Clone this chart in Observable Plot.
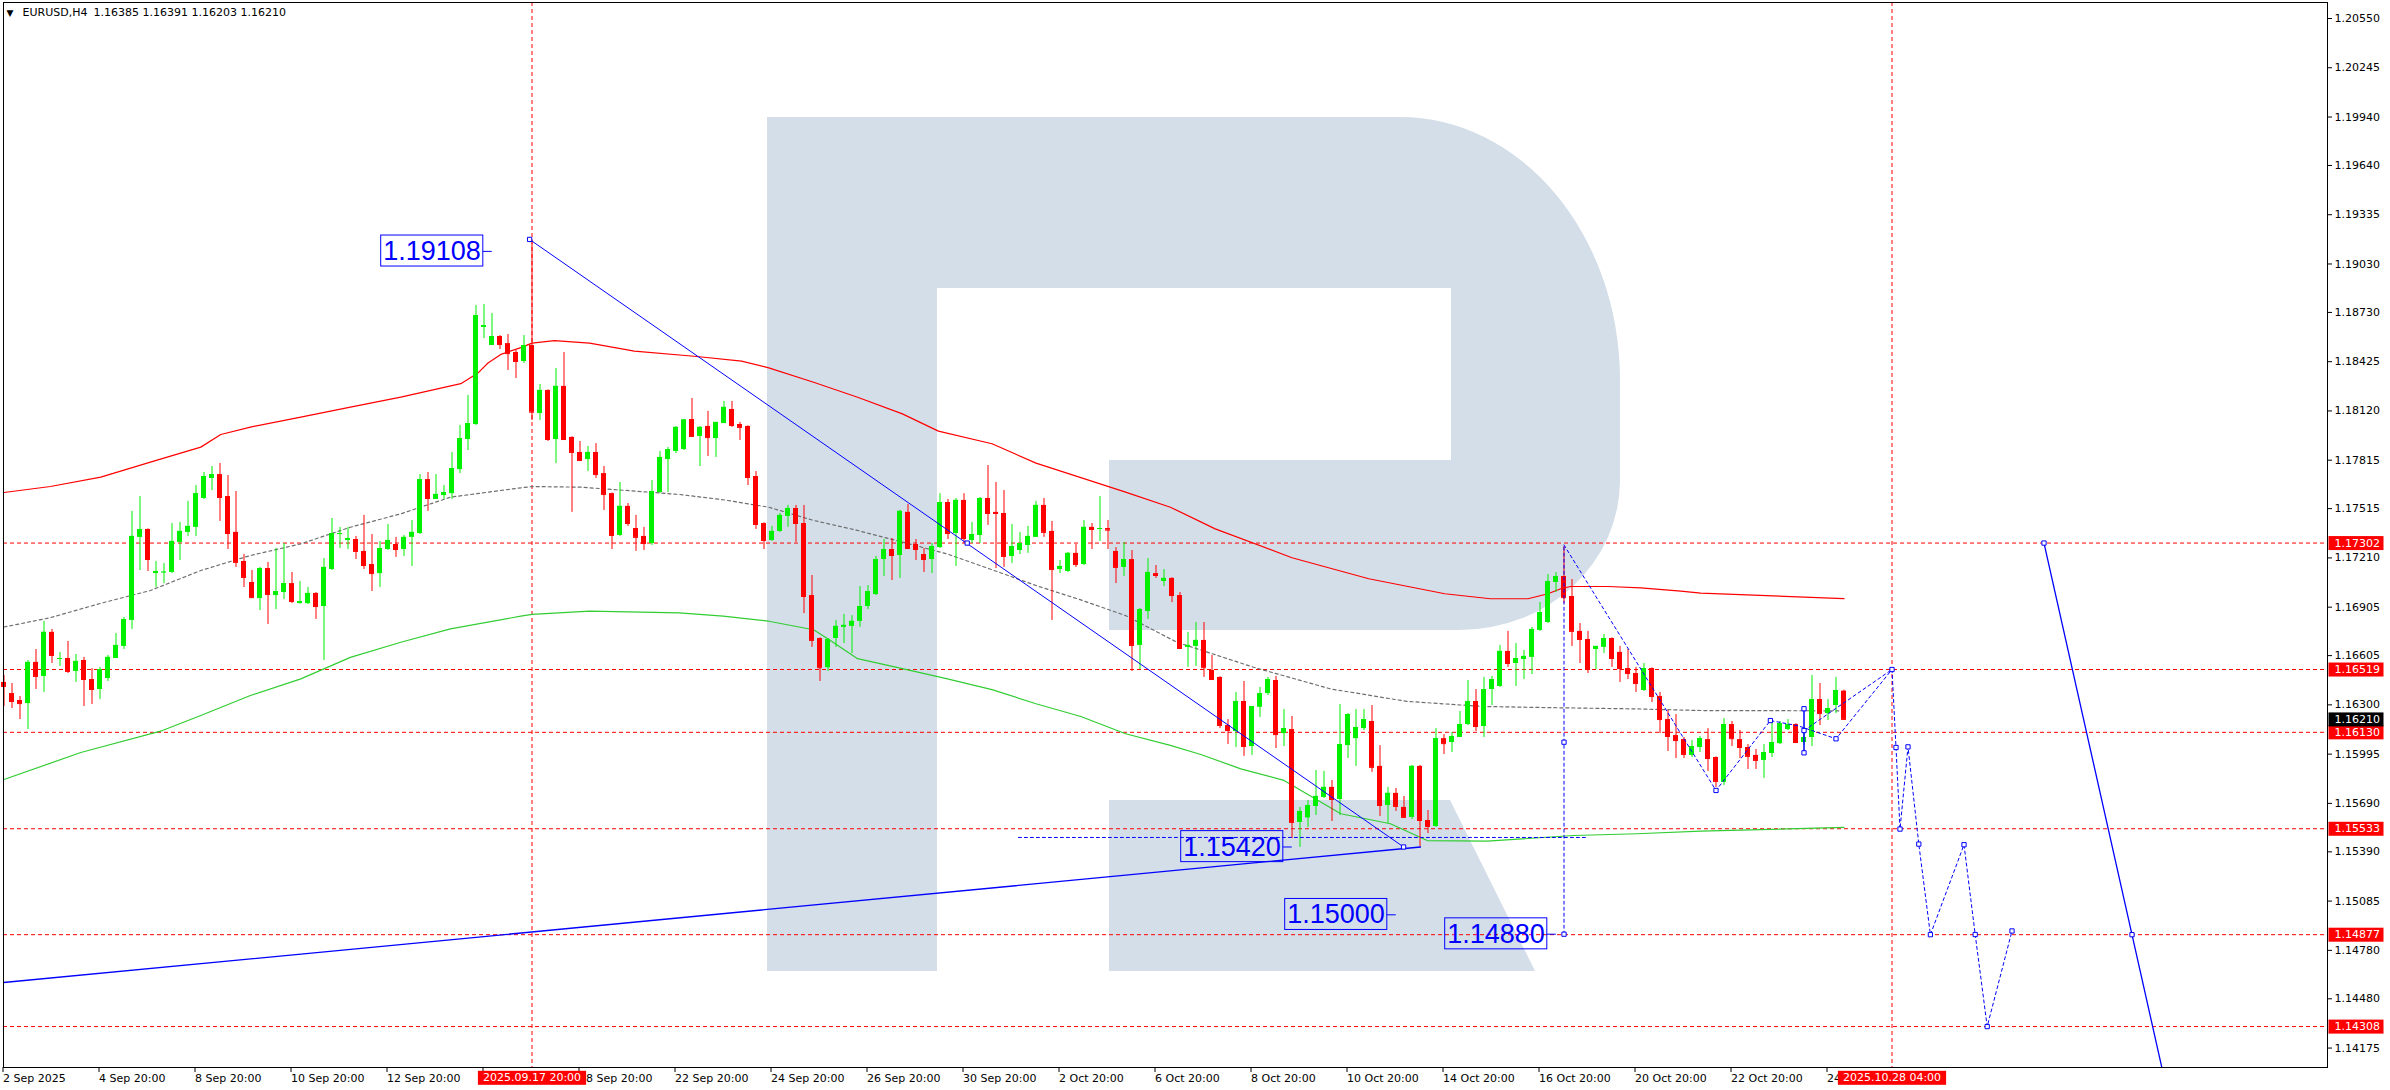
<!DOCTYPE html>
<html>
<head>
<meta charset="utf-8">
<script src="https://cdn.jsdelivr.net/npm/d3@7"></script>
<script src="https://cdn.jsdelivr.net/npm/@observablehq/plot@0.6"></script>
<style>
html,body{margin:0;padding:0;background:#fff;overflow:hidden;}
#chart svg{display:block;}
</style>
</head>
<body>
<div id="chart"></div>
<script>
// ---------- DATA (EURUSD H4, bar index 0 = 2 Sep 2025 20:00) ----------
const opens = [
1.16439,1.16370,1.16327,1.16308,1.16563,1.16476,1.16749,1.16581,1.16587,1.16507,
1.16575,1.16457,1.16395,1.16463,1.16587,1.16662,1.16823,1.17337,1.17386,1.17113,
1.17120,1.17120,1.17306,1.17368,1.17399,1.17578,1.17702,1.17726,1.17590,1.17368,
1.17188,1.17058,1.16958,1.17144,1.16977,1.16996,1.17051,1.16927,1.16927,1.16990,
1.16909,1.17138,1.17355,1.17318,1.17324,1.17250,1.17169,1.17113,1.17262,1.17293,
1.17262,1.17337,1.17361,1.17695,1.17572,1.17596,1.17608,1.17757,1.17943,1.18036,
1.18637,1.18525,1.18581,1.18537,1.18482,1.18426,1.18525,1.18104,1.18247,1.17943,
1.18272,1.17956,1.17863,1.17819,1.17863,1.17732,1.17608,1.17349,1.17529,1.17392,
1.17343,1.17299,1.17615,1.17819,1.17869,1.17881,1.18067,1.17962,1.18024,1.17949,
1.18042,1.18129,1.18036,1.18024,1.17714,1.17423,1.17318,1.17374,1.17467,1.17516,
1.17423,1.16977,1.16711,1.16530,1.16711,1.16780,1.16786,1.16817,1.16909,1.16983,
1.17200,1.17262,1.17225,1.17492,1.17293,1.17231,1.17200,1.17274,1.17553,1.17361,
1.17566,1.17318,1.17349,1.17578,1.17492,1.17485,1.17219,1.17256,1.17287,1.17337,
1.17535,1.17374,1.17138,1.17126,1.17238,1.17169,1.17399,1.17386,1.17392,1.17250,
1.17151,1.17200,1.16668,1.16878,1.17113,1.17064,1.17083,1.16977,1.16656,1.16662,
1.16699,1.16513,1.16470,1.16172,1.16135,1.16321,1.16042,1.16285,1.16370,1.16451,
1.16122,1.16147,1.15572,1.15600,1.15671,1.15727,1.15789,1.15714,1.16048,1.16091,
1.16153,1.16197,1.15919,1.15677,1.15752,1.15665,1.15603,1.15919,1.15584,1.15547,
1.16091,1.16067,1.16098,1.16178,1.16321,1.16166,1.16395,1.16414,1.16631,1.16556,
1.16581,1.16594,1.16761,1.16810,1.17058,1.17095,1.16971,1.16755,1.16705,1.16643,
1.16656,1.16711,1.16625,1.16525,1.16494,1.16389,1.16525,1.16352,1.16209,1.16110,
1.16085,1.15987,1.16036,1.16085,1.15974,1.15820,1.16178,1.16085,1.16036,1.15987,
1.15956,1.15999,1.16060,1.16147,1.16178,1.16067,1.16098,1.16333,1.16246,1.16296,
1.16385];
const highs = [
1.16482,1.16432,1.16352,1.16575,1.16643,1.16817,1.16767,1.16625,1.16693,1.16612,
1.16594,1.16525,1.16532,1.16606,1.16742,1.16841,1.17498,1.17590,1.17390,1.17188,
1.17175,1.17423,1.17430,1.17560,1.17658,1.17739,1.17776,1.17795,1.17720,1.17621,
1.17231,1.17132,1.17151,1.17182,1.17268,1.17299,1.17120,1.17064,1.17027,1.16995,
1.17206,1.17454,1.17399,1.17399,1.17343,1.17473,1.17355,1.17312,1.17417,1.17337,
1.17349,1.17442,1.17726,1.17739,1.17726,1.17658,1.17863,1.18030,1.18216,1.18773,
1.18779,1.18723,1.18587,1.18593,1.18494,1.18587,1.19180,1.18284,1.18250,1.18383,
1.18482,1.17960,1.17931,1.17900,1.17918,1.17776,1.17612,1.17677,1.17547,1.17473,
1.17399,1.17689,1.17869,1.17894,1.18024,1.18067,1.18197,1.18024,1.18117,1.18049,
1.18179,1.18179,1.18049,1.18028,1.17745,1.17427,1.17405,1.17485,1.17535,1.17535,
1.17535,1.17101,1.16715,1.16711,1.16823,1.16860,1.16853,1.17033,1.17039,1.17219,
1.17324,1.17330,1.17504,1.17541,1.17324,1.17268,1.17299,1.17608,1.17572,1.17578,
1.17608,1.17430,1.17584,1.17782,1.17677,1.17627,1.17417,1.17368,1.17405,1.17560,
1.17578,1.17436,1.17194,1.17244,1.17293,1.17442,1.17423,1.17590,1.17442,1.17274,
1.17306,1.17256,1.16897,1.17206,1.17163,1.17138,1.17087,1.16996,1.16749,1.16810,
1.16810,1.16606,1.16474,1.16209,1.16377,1.16445,1.16290,1.16408,1.16470,1.16476,
1.16271,1.16228,1.15665,1.15708,1.15894,1.15888,1.15832,1.16302,1.16246,1.16271,
1.16271,1.16296,1.16048,1.15789,1.15782,1.15733,1.15925,1.15925,1.15646,1.16153,
1.16116,1.16128,1.16259,1.16451,1.16395,1.16470,1.16476,1.16668,1.16755,1.16680,
1.16637,1.16779,1.16934,1.17107,1.17120,1.17280,1.17076,1.16804,1.16755,1.16662,
1.16736,1.16715,1.16662,1.16643,1.16532,1.16556,1.16529,1.16377,1.16265,1.16240,
1.16098,1.16079,1.16104,1.16153,1.15978,1.16215,1.16197,1.16141,1.16054,1.16024,
1.16054,1.16209,1.16197,1.16209,1.16184,1.16160,1.16482,1.16432,1.16333,1.16470,
1.16391];
const lows = [
1.16290,1.16277,1.16209,1.16147,1.16395,1.16377,1.16556,1.16538,1.16494,1.16439,
1.16290,1.16302,1.16333,1.16445,1.16587,1.16643,1.16767,1.17132,1.17126,1.17027,
1.17051,1.17113,1.17194,1.17343,1.17343,1.17572,1.17627,1.17436,1.17262,1.17151,
1.17027,1.16958,1.16884,1.16798,1.16890,1.16952,1.16927,1.16925,1.16921,1.16829,
1.16575,1.17132,1.17268,1.17262,1.17200,1.17138,1.17002,1.17027,1.17256,1.17213,
1.17219,1.17157,1.17355,1.17498,1.17572,1.17572,1.17572,1.17732,1.17875,1.18030,
1.18568,1.18525,1.18500,1.18371,1.18321,1.18414,1.18061,1.18061,1.17931,1.17794,
1.17937,1.17492,1.17807,1.17745,1.17702,1.17504,1.17262,1.17343,1.17405,1.17250,
1.17256,1.17287,1.17608,1.17615,1.17856,1.17875,1.17955,1.17776,1.17838,1.17832,
1.18042,1.18018,1.17937,1.17658,1.17386,1.17262,1.17312,1.17368,1.17399,1.17306,
1.16865,1.16656,1.16445,1.16507,1.16656,1.16680,1.16618,1.16780,1.16890,1.16977,
1.17095,1.17070,1.17083,1.17262,1.17194,1.17120,1.17113,1.17268,1.17324,1.17157,
1.17299,1.17299,1.17299,1.17411,1.17144,1.17151,1.17175,1.17231,1.17238,1.17337,
1.17337,1.16823,1.17113,1.17120,1.17151,1.17163,1.17262,1.17312,1.17262,1.17051,
1.17095,1.16507,1.16519,1.16829,1.17083,1.17033,1.16933,1.16643,1.16532,1.16538,
1.16470,1.16451,1.16153,1.16055,1.16036,1.15981,1.15987,1.16222,1.16358,1.16030,
1.16042,1.15472,1.15417,1.15541,1.15615,1.15720,1.15578,1.15615,1.15968,1.15919,
1.16141,1.15882,1.15609,1.15566,1.15640,1.15603,1.15590,1.15420,1.15503,1.15541,
1.15993,1.16005,1.16098,1.16172,1.16135,1.16098,1.16296,1.16408,1.16532,1.16414,
1.16457,1.16488,1.16755,1.16804,1.16996,1.16927,1.16662,1.16556,1.16494,1.16519,
1.16618,1.16532,1.16439,1.16457,1.16377,1.16383,1.16314,1.16122,1.16011,1.15968,
1.15968,1.15974,1.16005,1.15888,1.15789,1.15801,1.16042,1.15968,1.15900,1.15900,
1.15845,1.15974,1.16054,1.16141,1.16060,1.16048,1.16042,1.16172,1.16203,1.16246,
1.16203];
const closes = [
1.16414,1.16321,1.16308,1.16563,1.16476,1.16749,1.16606,1.16587,1.16507,1.16569,
1.16457,1.16395,1.16519,1.16594,1.16668,1.16828,1.17343,1.17386,1.17200,1.17126,
1.17122,1.17312,1.17374,1.17405,1.17608,1.17714,1.17726,1.17584,1.17361,1.17182,
1.17089,1.16964,1.17144,1.16983,1.17002,1.17051,1.16940,1.16940,1.16990,1.16909,
1.17151,1.17361,1.17361,1.17330,1.17250,1.17163,1.17113,1.17268,1.17318,1.17262,
1.17337,1.17368,1.17695,1.17578,1.17603,1.17615,1.17763,1.17949,1.18042,1.18711,
1.18649,1.18581,1.18531,1.18475,1.18426,1.18525,1.18112,1.18247,1.17943,1.18272,
1.17943,1.17863,1.17813,1.17863,1.17726,1.17603,1.17349,1.17529,1.17423,1.17337,
1.17299,1.17621,1.17832,1.17881,1.18018,1.18064,1.17962,1.18018,1.17955,1.18049,
1.18142,1.18030,1.18018,1.17708,1.17417,1.17318,1.17374,1.17473,1.17516,1.17423,
1.16971,1.16699,1.16530,1.16705,1.16786,1.16792,1.16817,1.16909,1.17002,1.17200,
1.17262,1.17225,1.17498,1.17268,1.17262,1.17200,1.17280,1.17553,1.17361,1.17566,
1.17330,1.17355,1.17578,1.17485,1.17485,1.17219,1.17280,1.17299,1.17343,1.17535,
1.17368,1.17138,1.17157,1.17238,1.17169,1.17399,1.17386,1.17392,1.17382,1.17151,
1.17200,1.16668,1.16890,1.17120,1.17101,1.17083,1.16977,1.16649,1.16668,1.16699,
1.16530,1.16457,1.16172,1.16141,1.16321,1.16042,1.16290,1.16370,1.16457,1.16116,
1.16153,1.15572,1.15640,1.15677,1.15733,1.15789,1.15714,1.16054,1.16240,1.16160,
1.16209,1.15913,1.15677,1.15752,1.15671,1.15603,1.15919,1.15584,1.15547,1.16091,
1.16060,1.16104,1.16178,1.16321,1.16166,1.16395,1.16457,1.16631,1.16556,1.16587,
1.16600,1.16767,1.16872,1.17064,1.17095,1.16964,1.16755,1.16705,1.16519,1.16662,
1.16711,1.16587,1.16525,1.16494,1.16432,1.16525,1.16352,1.16209,1.16104,1.16079,
1.15993,1.16042,1.16091,1.15968,1.15826,1.16178,1.16091,1.16036,1.15981,1.15956,
1.16005,1.16067,1.16184,1.16178,1.16067,1.16098,1.16333,1.16246,1.16277,1.16389,
1.16210];

// moving averages (bar index, price)
const maRedIdx = [0,5.8,12.1,18.3,24.6,27.1,30.8,37.1,43.3,49.6,57.1,59.2,60.5,62.1,64.6,66,68.8,73.2,78.8,86.6,92.2,95.6,101.2,106.7,112.3,116.8,123.5,129,134.6,140.2,145.8,151.4,161,170.6,180.1,185.8,190.5,193,194.6,195.8,200.5,204.6,209.6,212.1,230];
const maRedVal = [1.17615,1.17652,1.17710,1.17803,1.17896,1.17974,1.18020,1.18082,1.18144,1.18206,1.18289,1.18353,1.18417,1.18470,1.18512,1.18540,1.18556,1.18540,1.18490,1.18457,1.18428,1.18387,1.18298,1.18205,1.18102,1.17995,1.17917,1.17797,1.17707,1.17617,1.17524,1.17390,1.17211,1.17081,1.16988,1.16957,1.16957,1.16988,1.17019,1.17033,1.17033,1.17025,1.17004,1.16992,1.16958];
const maGreyIdx = [0,5.8,12.1,18.3,24.6,30.8,37.1,43.3,49.6,55.8,64.6,66,72.1,76.6,84.4,89.9,95.6,101.2,106.7,112.3,117.8,123.5,129,134.6,140.2,146.6,156.2,165.8,175.3,184.9,194.4,204.1,212.1,230];
const maGreyVal = [1.16782,1.16840,1.16929,1.17008,1.17132,1.17225,1.17297,1.17400,1.17483,1.17586,1.17644,1.17652,1.17648,1.17632,1.17603,1.17570,1.17524,1.17442,1.17380,1.17308,1.17236,1.17137,1.17039,1.16950,1.16853,1.16688,1.16533,1.16399,1.16322,1.16290,1.16282,1.16275,1.16265,1.16263];
const maGreenIdx = [0,9.6,19.8,24.6,30.8,37.1,43.3,49.6,55.8,64.6,66,73.2,84.4,89.9,95.6,101.2,103.3,106.7,112.3,117.8,123.5,129,134.6,140.2,145.8,149.6,154.6,160,167.1,173.3,177.9,185.4,196.2,204.1,212.1,230];
const maGreenVal = [1.15838,1.16005,1.16141,1.16234,1.16358,1.16461,1.16594,1.16688,1.16771,1.16849,1.16860,1.16880,1.16870,1.16849,1.16818,1.16765,1.16699,1.16586,1.16524,1.16462,1.16394,1.16307,1.16228,1.16121,1.16049,1.15993,1.15904,1.15832,1.15626,1.15564,1.15460,1.15456,1.15491,1.15502,1.15518,1.15541];

// horizontal levels, vertical time lines, ticks
const levels = [1.17302,1.16519,1.16130,1.15533,1.14877,1.14308];
const lastPrice = 1.16210;
const vLineIdx = [66,236];
const vLineLab = ["2025.09.17 20:00","2025.10.28 04:00"];
const xTickIdx = [0,12,24,36,48,60,72,84,96,108,120,132,144,156,168,180,192,204,216,228];
const xTickLab = ["2 Sep 2025","4 Sep 20:00","8 Sep 20:00","10 Sep 20:00","12 Sep 20:00","","","22 Sep 20:00","24 Sep 20:00","26 Sep 20:00","30 Sep 20:00","2 Oct 20:00","6 Oct 20:00","8 Oct 20:00","10 Oct 20:00","14 Oct 20:00","16 Oct 20:00","20 Oct 20:00","22 Oct 20:00",""];
// tick labels partly hidden behind the red time labels: only their visible part is shown
const partIdx = [72, 228];
const partLab = ["8 Sep 20:00", "24"];
const yTicks = [1.20550,1.20245,1.19940,1.19640,1.19335,1.19030,1.18730,1.18425,1.18120,1.17815,1.17515,1.17210,1.16905,1.16605,1.16300,1.15995,1.15690,1.15390,1.15085,1.14780,1.14480,1.14175];

// drawn analysis objects (bar index, price)
const trendA = [[65.7,1.19182],[174.95,1.15420]];
const trendB = [[-0.0625,1.14581],[177.06,1.15420]];
const trendC = [[255,1.17302],[266,1.14877],[272,1.13554]];
const hDash = [[126.8,1.15479],[197.9,1.15479]];
const vDash = [[195,1.14880],[195,1.17290]];
const zig1 = [[195,1.17290],[214,1.15770],[220.8,1.16203],[224.3,1.16170],[229,1.16090],[236,1.16519]];
const zig2 = [[225,1.16141],[236,1.16519]];
const zig3 = [[236,1.16519],[236.5,1.16036],[237,1.15531],[238,1.16040],[239.35,1.15438],[240.8,1.14877],[245,1.15434],[246.4,1.14878],[247.9,1.14308],[251,1.14900]];
const vSolid = [[225,1.16276],[225,1.16003]];
const markers = [[65.7,1.19182],[120.4,1.17302],[174.95,1.15420],[195,1.14880],[195,1.16069],[214,1.15770],[220.8,1.16203],[225,1.16276],[225,1.16003],[225,1.16141],[229,1.16090],[236,1.16519],[236.5,1.16036],[237,1.15531],[238,1.16040],[239.35,1.15438],[240.8,1.14877],[245,1.15434],[246.4,1.14878],[247.9,1.14308],[251,1.14900],[255,1.17302],[266,1.14877]];
const labelText = ["1.19108","1.15420","1.15000","1.14880"];
const labelIdx = [53.5,153.5,166.5,186.5];
const labelPrice = [1.19108,1.15420,1.15000,1.14880];
const headerSymbol = "EURUSD,H4";
const headerOHLC = "1.16385 1.16391 1.16203 1.16210";

// ---------- BUILD ----------
const GREEN = "#00f000", RED = "#ff0000", BLUE = "#0000ff", MAGREEN = "#32cd32", GREY = "#6e6e6e";
const candles = opens.map((o, i) => ({i, o, h: highs[i], l: lows[i], c: closes[i]}));
const colorOf = d => d.c >= d.o ? GREEN : RED;
const HW = 0.3125;
const toPts = (idx, val) => idx.map((x, k) => ({x, y: val[k]}));
const pairs = arr => arr.map(([x, y]) => ({x, y}));
const tickLabel = new Map(xTickIdx.map((d, k) => [d, xTickLab[k]]));
const vLines = vLineIdx.map((i, k) => ({i, label: vLineLab[k]}));
const bigLabels = labelText.map((t, k) => ({t, i: labelIdx[k], p: labelPrice[k]}));
const dashed = {x: "x", y: "y", stroke: BLUE, strokeWidth: 1, strokeDasharray: "3,3"};

const chart = Plot.plot({
  width: 2390, height: 1090,
  marginLeft: 3, marginRight: 63, marginTop: 2, marginBottom: 23,
  x: {type: "linear", domain: [-0.0625, 290.4375], axis: null},
  y: {type: "linear", domain: [1.140546, 1.206491], axis: null},
  style: {fontFamily: "'DejaVu Sans', sans-serif", fontSize: "11px", color: "#000", background: "#fff", overflow: "visible"},
  marks: [
    Plot.ruleY(levels, {stroke: RED, strokeWidth: 1, strokeDasharray: "4,3"}),
    Plot.ruleX(vLineIdx, {stroke: RED, strokeWidth: 1, strokeDasharray: "4,3"}),
    Plot.line(toPts(maRedIdx, maRedVal), {x: "x", y: "y", stroke: RED, strokeWidth: 1.2}),
    Plot.line(toPts(maGreyIdx, maGreyVal), {x: "x", y: "y", stroke: GREY, strokeWidth: 1.2, strokeDasharray: "3,3"}),
    Plot.line(toPts(maGreenIdx, maGreenVal), {x: "x", y: "y", stroke: MAGREEN, strokeWidth: 1.2}),
    Plot.ruleX(candles, {x: "i", y1: "l", y2: "h", stroke: colorOf, strokeWidth: 1}),
    Plot.rect(candles, {x1: d => d.i - HW, x2: d => d.i + HW, y1: "o", y2: "c", fill: colorOf}),
    Plot.ruleY(candles, {y: "c", x1: d => d.i - HW, x2: d => d.i + HW, stroke: colorOf}),
    Plot.line(pairs(trendA), {x: "x", y: "y", stroke: BLUE, strokeWidth: 1}),
    Plot.line(pairs(trendB), {x: "x", y: "y", stroke: BLUE, strokeWidth: 1.3, clip: true}),
    Plot.line(pairs(trendC), {x: "x", y: "y", stroke: BLUE, strokeWidth: 1.3, clip: true}),
    Plot.line(pairs(hDash), dashed),
    Plot.line(pairs(vDash), dashed),
    Plot.line(pairs(zig1), dashed),
    Plot.line(pairs(zig2), dashed),
    Plot.line(pairs(zig3), dashed),
    Plot.line(pairs(vSolid), {x: "x", y: "y", stroke: BLUE, strokeWidth: 1.5}),
    Plot.dot(pairs(markers), {x: "x", y: "y", symbol: "square", r: 2.4, stroke: BLUE, fill: "white", strokeWidth: 1}),
    Plot.text(bigLabels, {x: "i", y: "p", text: "t", fontSize: 27, fontFamily: "'Liberation Sans', Arial, sans-serif", fill: BLUE, ariaDescription: "big-labels"}),
    Plot.frame({stroke: "#000", strokeWidth: 1}),
    Plot.axisX({ticks: xTickIdx, tickFormat: d => tickLabel.get(d), anchor: "bottom", tickSize: 5, tickPadding: 2, textAnchor: "start", dx: -1, label: null}),
    Plot.text(partLab, {x: (d, k) => partIdx[k], text: d => d, frameAnchor: "bottom", lineAnchor: "top", dy: 7, dx: 6, textAnchor: "start", filter: (d, k) => k === 0}),
    Plot.text(partLab, {x: (d, k) => partIdx[k], text: d => d, frameAnchor: "bottom", lineAnchor: "top", dy: 7, dx: -1, textAnchor: "start", filter: (d, k) => k === 1}),
    Plot.axisY({anchor: "right", ticks: yTicks, tickFormat: d => d.toFixed(5), tickSize: 4, tickPadding: 3, label: null}),
    Plot.text(levels, {y: d => d, text: d => d.toFixed(5), frameAnchor: "right", dx: 7, textAnchor: "start", fill: "#fff", ariaDescription: "red-price-labels"}),
    Plot.text([lastPrice], {y: d => d, text: d => d.toFixed(5), frameAnchor: "right", dx: 7, textAnchor: "start", fill: "#fff", ariaDescription: "current-price-label"}),
    Plot.text(vLines, {x: "i", text: "label", frameAnchor: "bottom", lineAnchor: "top", dy: 6, fill: "#fff", ariaDescription: "time-labels"}),
    Plot.text(["\u25BC"], {frameAnchor: "top-left", dx: 3, dy: 7, lineAnchor: "top", textAnchor: "start", fontSize: 9}),
    Plot.text([headerSymbol], {frameAnchor: "top-left", dx: 19, dy: 6, lineAnchor: "top", textAnchor: "start"}),
    Plot.text([headerOHLC], {frameAnchor: "top-left", dx: 90, dy: 6, lineAnchor: "top", textAnchor: "start"})
  ]
});
document.getElementById("chart").append(chart);

// ---------- post-processing: watermark logo and label boxes ----------
const NS = "http://www.w3.org/2000/svg";
const logo = document.createElementNS(NS, "path");
logo.setAttribute("d",
  "M767,117H937V971H767Z" +
  "M937,117H1400A220,263 0 0 1 1620,380V480A160,150 0 0 1 1460,630H1109V460H1451V288H937Z" +
  "M1109,800H1450L1535,971H1109Z");
logo.setAttribute("fill", "#d3dee9");
const firstG = chart.querySelector("g");
chart.insertBefore(logo, firstG);

function boxes(label, fill, stroke, padL, padR, fixedH, connector) {
  chart.querySelectorAll(`g[aria-description="${label}"] text`).forEach(t => {
    const b = t.getBBox();
    const r = document.createElementNS(NS, "rect");
    const h = fixedH || b.height + 1;
    const cy = b.y + b.height / 2;
    r.setAttribute("x", b.x - padL);
    r.setAttribute("y", fixedH ? cy - h / 2 : b.y - 1);
    r.setAttribute("width", b.width + padL + padR);
    r.setAttribute("height", h);
    r.setAttribute("fill", fill);
    if (stroke) { r.setAttribute("stroke", stroke); r.setAttribute("stroke-width", 1); }
    const tr = t.getAttribute("transform");
    if (tr) r.setAttribute("transform", tr);
    t.parentNode.insertBefore(r, t);
    if (connector) {
      const l = document.createElementNS(NS, "line");
      const x0 = b.x + b.width + padR;
      l.setAttribute("x1", x0); l.setAttribute("x2", x0 + connector);
      l.setAttribute("y1", 0); l.setAttribute("y2", 0);
      l.setAttribute("stroke", stroke);
      if (tr) l.setAttribute("transform", tr);
      t.parentNode.insertBefore(l, t);
    }
  });
}
boxes("red-price-labels", RED, null, 6, 3.5, 14, 0);
boxes("current-price-label", "#000", null, 6, 3.5, 14, 0);
boxes("time-labels", RED, null, 5, 5, 14, 0);
boxes("big-labels", "none", BLUE, 2.5, 2, 0, 9);
</script>
</body>
</html>
